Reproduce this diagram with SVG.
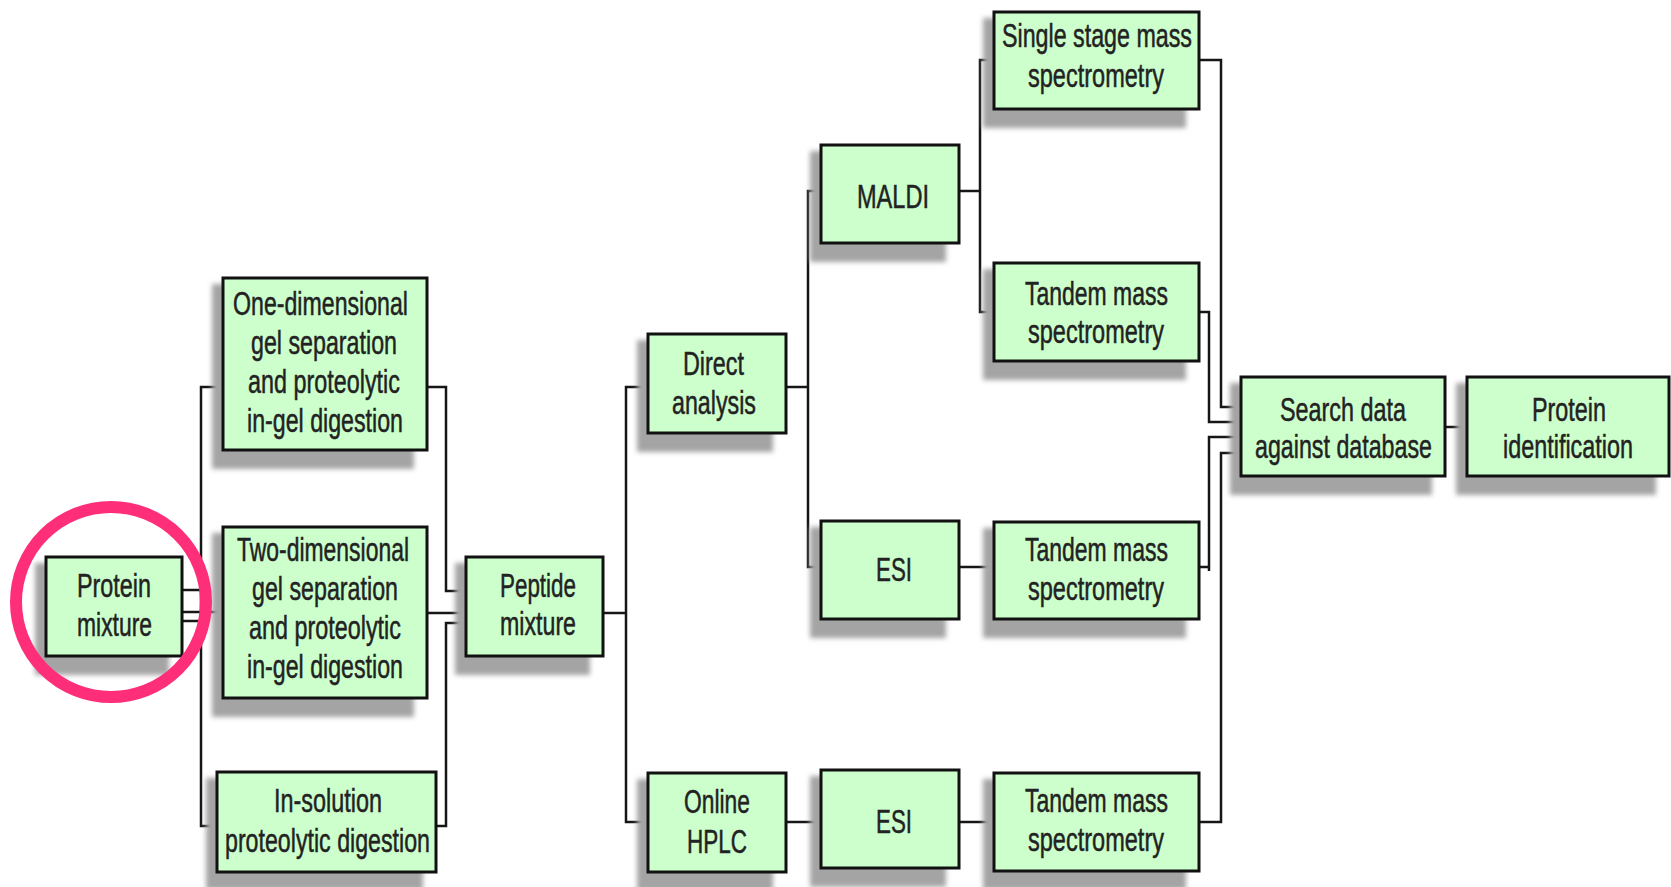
<svg xmlns="http://www.w3.org/2000/svg" width="1671" height="887" viewBox="0 0 1671 887">
  <style>
    .box { fill: #ccffcc; stroke: #111; stroke-width: 3; }
    .shadow { fill: #a4a4a4; filter: url(#soft); }
    .lbl { font-family: "Liberation Sans Narrow", "Liberation Sans", Arial, sans-serif; font-size: 33px; fill: #222; stroke: #222; stroke-width: 0.5; text-anchor: middle; }
    .wire { fill: none; stroke: #161616; stroke-width: 2.5; }
    .ring { fill: none; stroke: #ff2e79; stroke-width: 12; }
  </style>
  <defs>
    <filter id="soft" x="-10%" y="-10%" width="120%" height="130%">
      <feGaussianBlur stdDeviation="2.5"/>
    </filter>
  </defs>
  <rect width="1671" height="887" fill="#ffffff"/>

  <!-- connectors -->
  <g id="connectors" class="wire">
    <path d="M182,590 H201"/>
    <path d="M182,612 H223"/>
    <path d="M182,621 H201"/>
    <path d="M223,387 H201 V826 H217"/>
    <path d="M427,387 H446 V591 H466"/>
    <path d="M427,613 H466"/>
    <path d="M466,623 H446 V826 H436"/>
    <path d="M603,613 H626"/>
    <path d="M648,387 H626 V822 H648"/>
    <path d="M786,387 H808"/>
    <path d="M821,191 H808 V567 H821"/>
    <path d="M959,191 H980"/>
    <path d="M994,60 H980 V312 H994"/>
    <path d="M959,567 H994"/>
    <path d="M786,822 H821"/>
    <path d="M959,822 H994"/>
    <path d="M1199,60 H1221 V407 H1241"/>
    <path d="M1199,312 H1209 V422 H1241"/>
    <path d="M1199,567 H1209 M1209,571 V437 H1241"/>
    <path d="M1199,822 H1221 V453 H1241"/>
    <path d="M1445,427 H1467"/>
  </g>

  <g id="protein-mixture">
    <rect class="shadow" x="35" y="563" width="134" height="112"/>
    <rect class="box" x="46" y="557" width="136" height="99"/>
    <text class="lbl" x="114" y="597" textLength="74" lengthAdjust="spacingAndGlyphs">Protein</text>
    <text class="lbl" x="114.5" y="636" textLength="75" lengthAdjust="spacingAndGlyphs">mixture</text>
  </g>

  <g id="one-dimensional-gel">
    <rect class="shadow" x="212" y="284" width="202" height="185"/>
    <rect class="box" x="223" y="278" width="204" height="172"/>
    <text class="lbl" x="320.5" y="315" textLength="175" lengthAdjust="spacingAndGlyphs">One-dimensional</text>
    <text class="lbl" x="324" y="354" textLength="146" lengthAdjust="spacingAndGlyphs">gel separation</text>
    <text class="lbl" x="324" y="393" textLength="152" lengthAdjust="spacingAndGlyphs">and proteolytic</text>
    <text class="lbl" x="325" y="432" textLength="156" lengthAdjust="spacingAndGlyphs">in-gel digestion</text>
  </g>

  <g id="two-dimensional-gel">
    <rect class="shadow" x="212" y="533" width="202" height="184"/>
    <rect class="box" x="223" y="527" width="204" height="171"/>
    <text class="lbl" x="323" y="561" textLength="172" lengthAdjust="spacingAndGlyphs">Two-dimensional</text>
    <text class="lbl" x="325" y="600" textLength="146" lengthAdjust="spacingAndGlyphs">gel separation</text>
    <text class="lbl" x="325" y="639" textLength="152" lengthAdjust="spacingAndGlyphs">and proteolytic</text>
    <text class="lbl" x="325" y="678" textLength="156" lengthAdjust="spacingAndGlyphs">in-gel digestion</text>
  </g>

  <g id="in-solution-digestion">
    <rect class="shadow" x="206" y="778" width="217" height="112"/>
    <rect class="box" x="217" y="772" width="219" height="100"/>
    <text class="lbl" x="328" y="812" textLength="108" lengthAdjust="spacingAndGlyphs">In-solution</text>
    <text class="lbl" x="327.5" y="852" textLength="205" lengthAdjust="spacingAndGlyphs">proteolytic digestion</text>
  </g>

  <g id="peptide-mixture">
    <rect class="shadow" x="455" y="563" width="135" height="112"/>
    <rect class="box" x="466" y="557" width="137" height="99"/>
    <text class="lbl" x="538" y="597" textLength="76" lengthAdjust="spacingAndGlyphs">Peptide</text>
    <text class="lbl" x="538" y="635" textLength="76" lengthAdjust="spacingAndGlyphs">mixture</text>
  </g>

  <g id="direct-analysis">
    <rect class="shadow" x="637" y="340" width="136" height="112"/>
    <rect class="box" x="648" y="334" width="138" height="99"/>
    <text class="lbl" x="713.5" y="375" textLength="61" lengthAdjust="spacingAndGlyphs">Direct</text>
    <text class="lbl" x="714" y="414" textLength="84" lengthAdjust="spacingAndGlyphs">analysis</text>
  </g>

  <g id="online-hplc">
    <rect class="shadow" x="637" y="779" width="136" height="112"/>
    <rect class="box" x="648" y="773" width="138" height="99"/>
    <text class="lbl" x="717" y="813" textLength="66" lengthAdjust="spacingAndGlyphs">Online</text>
    <text class="lbl" x="717" y="853" textLength="60" lengthAdjust="spacingAndGlyphs">HPLC</text>
  </g>

  <g id="maldi">
    <rect class="shadow" x="810" y="151" width="136" height="111"/>
    <rect class="box" x="821" y="145" width="138" height="98"/>
    <text class="lbl" x="893" y="208" textLength="72" lengthAdjust="spacingAndGlyphs">MALDI</text>
  </g>

  <g id="esi-direct">
    <rect class="shadow" x="810" y="527" width="136" height="111"/>
    <rect class="box" x="821" y="521" width="138" height="98"/>
    <text class="lbl" x="894" y="581" textLength="36" lengthAdjust="spacingAndGlyphs">ESI</text>
  </g>

  <g id="esi-online">
    <rect class="shadow" x="810" y="776" width="136" height="111"/>
    <rect class="box" x="821" y="770" width="138" height="98"/>
    <text class="lbl" x="894" y="833" textLength="36" lengthAdjust="spacingAndGlyphs">ESI</text>
  </g>

  <g id="single-stage-ms">
    <rect class="shadow" x="983" y="18" width="203" height="110"/>
    <rect class="box" x="994" y="12" width="205" height="97"/>
    <text class="lbl" x="1097" y="47" textLength="190" lengthAdjust="spacingAndGlyphs">Single stage mass</text>
    <text class="lbl" x="1096" y="87" textLength="136" lengthAdjust="spacingAndGlyphs">spectrometry</text>
  </g>

  <g id="tandem-ms-maldi">
    <rect class="shadow" x="983" y="269" width="203" height="111"/>
    <rect class="box" x="994" y="263" width="205" height="98"/>
    <text class="lbl" x="1096.5" y="305" textLength="143" lengthAdjust="spacingAndGlyphs">Tandem mass</text>
    <text class="lbl" x="1096" y="343" textLength="136" lengthAdjust="spacingAndGlyphs">spectrometry</text>
  </g>

  <g id="tandem-ms-esi">
    <rect class="shadow" x="983" y="528" width="203" height="110"/>
    <rect class="box" x="994" y="522" width="205" height="97"/>
    <text class="lbl" x="1096.5" y="561" textLength="143" lengthAdjust="spacingAndGlyphs">Tandem mass</text>
    <text class="lbl" x="1096" y="600" textLength="136" lengthAdjust="spacingAndGlyphs">spectrometry</text>
  </g>

  <g id="tandem-ms-hplc">
    <rect class="shadow" x="983" y="779" width="203" height="111"/>
    <rect class="box" x="994" y="773" width="205" height="98"/>
    <text class="lbl" x="1096.5" y="812" textLength="143" lengthAdjust="spacingAndGlyphs">Tandem mass</text>
    <text class="lbl" x="1096" y="851" textLength="136" lengthAdjust="spacingAndGlyphs">spectrometry</text>
  </g>

  <g id="database-search">
    <rect class="shadow" x="1230" y="383" width="202" height="112"/>
    <rect class="box" x="1241" y="377" width="204" height="99"/>
    <text class="lbl" x="1343" y="421" textLength="126" lengthAdjust="spacingAndGlyphs">Search data</text>
    <text class="lbl" x="1343.5" y="458" textLength="177" lengthAdjust="spacingAndGlyphs">against database</text>
  </g>

  <g id="protein-identification">
    <rect class="shadow" x="1456" y="383" width="200" height="112"/>
    <rect class="box" x="1467" y="377" width="202" height="99"/>
    <text class="lbl" x="1569" y="421" textLength="74" lengthAdjust="spacingAndGlyphs">Protein</text>
    <text class="lbl" x="1568" y="458" textLength="130" lengthAdjust="spacingAndGlyphs">identification</text>
  </g>

  <!-- highlight ring around the starting node -->
  <g id="highlight">
    <circle class="ring" cx="111" cy="602" r="95"/>
  </g>
</svg>
